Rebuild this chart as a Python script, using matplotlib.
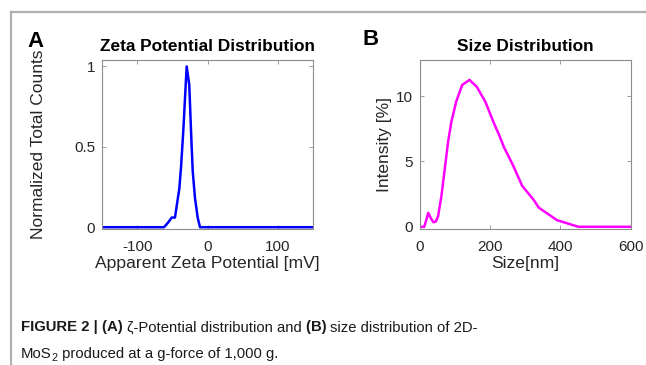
import numpy as np
import matplotlib
matplotlib.use('Agg')
import matplotlib.pyplot as plt
from matplotlib import font_manager

# 字體
names = {f.name for f in font_manager.fontManager.ttflist}
narrow = 'Liberation Sans Narrow' in names
plt.rcParams['font.family'] = ['Liberation Sans', 'DejaVu Sans']
plt.rcParams['axes.unicode_minus'] = False
CAP_FONT = ['Liberation Sans Narrow', 'Liberation Sans', 'DejaVu Sans']
CAP_SIZE = 12 if narrow else 10.7

# 數據: zeta potential
zeta_mv = [-150, -62, -56, -51, -46.4, -44, -40.2, -37.8, -34.5, -32.1, -29.7,
           -26, -23.5, -21.1, -17.8, -14, -10.7, 150]
zeta_counts = [0, 0, 0.03, 0.06, 0.06, 0.13, 0.24, 0.37, 0.60, 0.80, 1.0,
               0.885, 0.60, 0.35, 0.18, 0.06, 0, 0]

# 數據: size distribution
size_nm = [0, 12, 17, 23.5, 30, 38, 45, 51.6, 61, 70.4, 80, 89, 103, 120, 141,
           162, 186, 211, 225, 239, 265, 291, 324, 338, 390, 451, 600]
intensity = [0, 0, 0.43, 1.07, 0.7, 0.35, 0.4, 0.82, 2.36, 4.4, 6.5, 8.0, 9.57,
             10.85, 11.24, 10.7, 9.57, 7.9, 7.05, 6.1, 4.7, 3.13, 2.05, 1.47,
             0.51, 0.0, 0.0]

SPINE = '#8c8c8c'
TXT = '#262626'

fig = plt.figure(figsize=(6.46, 3.65), dpi=100)

# 外框線
fig.add_artist(plt.Line2D([11 / 646, 11 / 646], [0, 1 - 12 / 365], color='#b0b0b0', lw=1.6))
fig.add_artist(plt.Line2D([11 / 646, 1], [1 - 12 / 365, 1 - 12 / 365], color='#b0b0b0', lw=1.6))


def style_axes(ax):
    for s in ax.spines.values():
        s.set_color(SPINE)
        s.set_linewidth(0.8)
    ax.tick_params(direction='in', top=True, right=True, length=3, width=0.6,
                   color=SPINE, labelsize=11, labelcolor=TXT)
    ax.tick_params(axis='x', pad=8)
    ax.tick_params(axis='y', pad=5)


axA = fig.add_axes([102.3 / 646, 1 - 228.5 / 365, 210.4 / 646, 169 / 365])
axA.plot(zeta_mv, zeta_counts, color='#0000ff', lw=1.8)
axA.set_xlim(-150, 150)
axA.set_ylim(-0.008, 1.043)
axA.set_xticks([-100, 0, 100])
axA.set_yticks([0, 0.5, 1])
axA.set_yticklabels(['0', '0.5', '1'])
axA.set_xlabel('Apparent Zeta Potential [mV]', fontsize=12.6, color=TXT, labelpad=2)
axA.set_ylabel('Normalized Total Counts', fontsize=12.5, color=TXT, labelpad=20)
axA.set_title('Zeta Potential Distribution', fontsize=12.4, fontweight='bold', color='black', pad=6)
style_axes(axA)

axB = fig.add_axes([420 / 646, 1 - 228.5 / 365, 210.7 / 646, 169 / 365])
axB.plot(size_nm, intensity, color='#ff00ff', lw=1.8)
axB.set_xlim(0, 600)
axB.set_ylim(-0.13, 12.8)
axB.set_xticks([0, 200, 400, 600])
axB.set_yticks([0, 5, 10])
axB.set_xlabel('Size[nm]', fontsize=12.6, color=TXT, labelpad=2)
axB.set_ylabel('Intensity [%]', fontsize=12.5, color=TXT, labelpad=3)
axB.set_title('Size Distribution', fontsize=12.4, fontweight='bold', color='black', pad=6)
style_axes(axB)

fig.text(27 / 646, 1 - 47 / 365, 'A', fontsize=16, fontweight='bold', color='black')
fig.text(362 / 646, 1 - 45 / 365, 'B', fontsize=16, fontweight='bold', color='black')

# 圖說 (分段排版)
fig.canvas.draw()
renderer = fig.canvas.get_renderer()


def write_line(parts, x_px, base_px):
    x = x_px
    for txt, bold, sub in parts:
        size = CAP_SIZE * 0.72 if sub else CAP_SIZE
        y = base_px + (3 if sub else 0)
        t = fig.text(x / 646, 1 - y / 365, txt, fontsize=size, family=CAP_FONT,
                     fontweight='bold' if bold else 'normal', color='#1a1a1a',
                     va='baseline')
        w = t.get_window_extent(renderer).width
        x += w


write_line([('FIGURE 2 | ', True, False), ('(A) ', True, False),
            ('ζ-Potential distribution and ', False, False), ('(B) ', True, False),
            ('size distribution of 2D-', False, False)], 21, 331.5)
write_line([('MoS', False, False), ('2', False, True),
            (' produced at a g-force of 1,000 g.', False, False)], 21, 358)

fig.savefig('out.png', dpi=100)
